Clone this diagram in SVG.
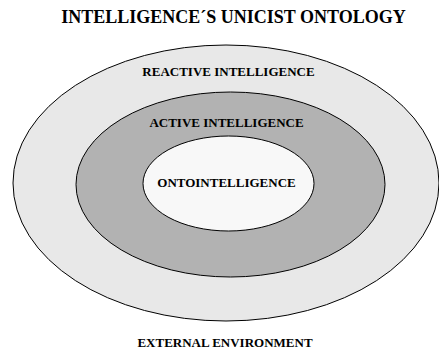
<svg xmlns="http://www.w3.org/2000/svg" width="439" height="351" viewBox="0 0 439 351">
<style>
text{font-family:"Liberation Serif","Times New Roman",serif;font-weight:bold;fill:#000;text-anchor:middle}
.lbl{font-size:13px}
.ring{stroke:#000;stroke-width:1}
</style>
<rect width="439" height="351" fill="#fff"/>
<text x="233.5" y="23" style="font-size:18px">INTELLIGENCE´S UNICIST ONTOLOGY</text>
<g id="reactive">
<ellipse class="ring" cx="226" cy="183" rx="213" ry="138" fill="#e8e8e8"/>
<text class="lbl" x="228.5" y="76">REACTIVE INTELLIGENCE</text>
</g>
<g id="active">
<ellipse class="ring" cx="230.5" cy="184.5" rx="154.5" ry="92.5" fill="#b2b2b2"/>
<text class="lbl" x="226.5" y="127">ACTIVE INTELLIGENCE</text>
</g>
<g id="onto">
<ellipse class="ring" cx="228.5" cy="183.5" rx="85.5" ry="47.5" fill="#f8f8f8"/>
<text class="lbl" x="226.5" y="187">ONTOINTELLIGENCE</text>
</g>
<g id="external">
<text class="lbl" x="225" y="347">EXTERNAL ENVIRONMENT</text>
</g>
<g id="connectors"/>
</svg>
